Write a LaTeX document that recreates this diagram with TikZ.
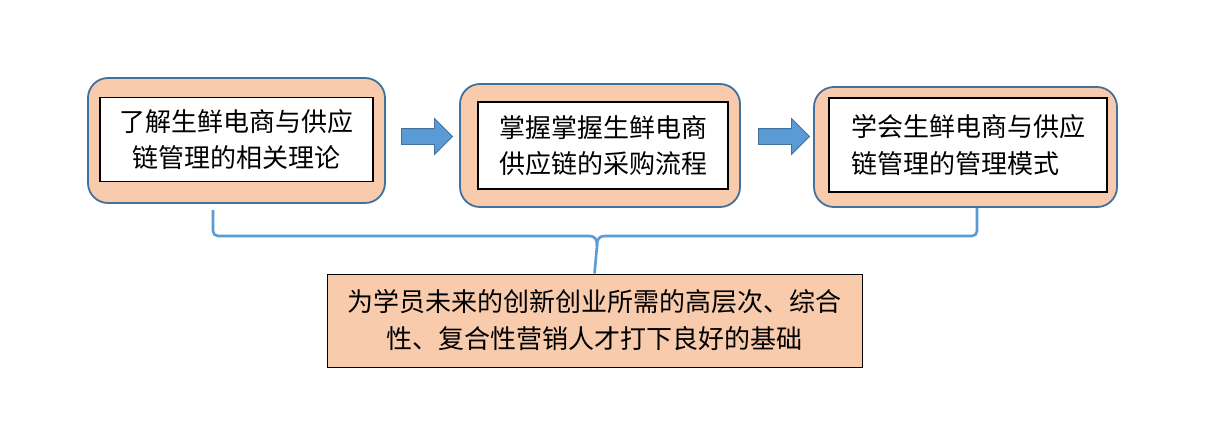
\documentclass[tikz,border=0pt]{standalone}
\usepackage{fontspec}
\newfontfamily\cjk{Noto Sans CJK SC}
\usetikzlibrary{shapes.arrows}
\definecolor{peach}{HTML}{F8CBAD}
\definecolor{edgeblue}{HTML}{41719C}
\definecolor{flowblue}{HTML}{5B9BD5}
\begin{document}
\begin{tikzpicture}[x=1pt, y=-1pt,
    outerbox/.style={draw=edgeblue, line width=1.8pt, fill=peach, rounded corners=20pt},
    innerbox/.style={draw=black, line width=1.3pt, fill=white, align=center, inner sep=0pt,
      font=\cjk\fontsize{26}{36.5}\selectfont},
    goalbox/.style={draw=black, line width=1pt, fill=peach, align=center, inner sep=0pt,
      font=\cjk\fontsize{26}{37}\selectfont},
    stepArrow/.style={single arrow, draw=edgeblue, line width=0.8pt, fill=flowblue,
      inner xsep=0pt, inner ysep=7.5pt, minimum height=51pt, minimum width=35pt,
      single arrow head extend=10pt},
    bracket/.style={draw=flowblue, line width=2.6pt}]
	  \useasboundingbox (0,0) rectangle (1207,439);
	  % three steps
	  \node [outerbox, minimum width=297pt, minimum height=125pt] (o1) at (236.5,140.5) {};
	  \node [innerbox, minimum width=273pt, minimum height=84pt] (s1) at (236.5,139.5) {了解生鲜电商与供应\\链管理的相关理论};
	  \node [outerbox, minimum width=280pt, minimum height=123pt] (o2) at (600,145.5) {};
	  \node [innerbox, minimum width=250pt, minimum height=87pt] (s2) at (603,145.5) {掌握掌握生鲜电商\\供应链的采购流程};
	  \node [outerbox, minimum width=303pt, minimum height=120pt] (o3) at (965.5,147) {};
	  \node [innerbox, align=left, minimum width=278pt, minimum height=94pt] (s3) at (968,145) {学会生鲜电商与供应\\链管理的管理模式};
	  % arrows between steps
	  \node [stepArrow] (a1) at (423,136.5) {};
	  \node [stepArrow] (a2) at (780,136.5) {};
	  % goal
	  \node [goalbox, minimum width=535pt, minimum height=93pt] (goal) at (594.5,320.5) {为学员未来的创新创业所需的高层次、综合\\性、复合性营销人才打下良好的基础};
	  % bracket
	  \coordinate (bl) at (213,210);
	  \coordinate (br) at (977,208);
	  \draw [bracket, rounded corners=5pt] (bl) |- (589,236);
	  \draw [bracket, rounded corners=5pt] (br) |- (605,236);
	  \draw [bracket] (589,236) .. controls (595,236) and (597,239) .. (597,246) -- (goal.north);
	  \draw [bracket] (605,236) .. controls (599,236) and (597,239) .. (597,246);
	 \end{tikzpicture}
\end{document}
